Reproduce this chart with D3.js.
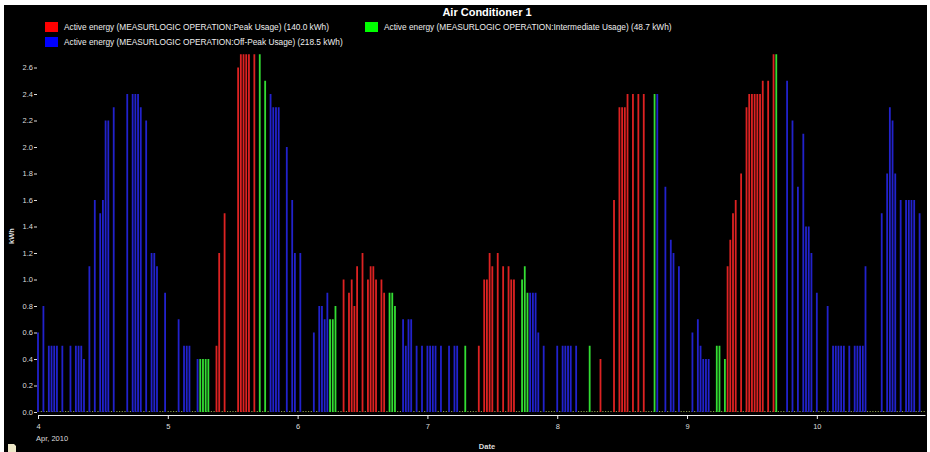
<!DOCTYPE html>
<html>
<head>
<meta charset="utf-8">
<script src="https://cdn.jsdelivr.net/npm/d3@7"></script>
<style>
  body { margin: 0; background: #fff; }
  text { font-family: "Liberation Sans", Arial, sans-serif; }
</style>
</head>
<body>
<div class="board"></div>
<script>
// half-hour slots counted from Apr 4 2010 00:00, values in kWh
var peak = [
  [66, 0.5], [67, 1.2], [69, 1.5], [74, 2.6], [75, 2.7], [76, 2.7], [77, 2.7], [78, 2.7], [80, 2.7],
  [113, 1.0], [115, 0.9], [116, 1.0], [117, 0.8], [118, 1.1], [120, 1.2], [122, 1.0], [123, 1.1],
  [124, 1.1], [125, 1.0], [127, 1.0], [128, 0.9],
  [163, 0.5], [165, 1.0], [166, 1.0], [167, 1.2], [168, 1.1], [170, 1.2], [172, 1.1], [174, 1.1],
  [175, 1.0], [176, 1.0],
  [208, 0.4], [213, 1.6], [215, 2.3], [216, 2.3], [217, 2.3], [218, 2.4], [220, 2.4], [222, 2.4], [224, 2.4],
  [255, 1.1], [256, 1.3], [257, 1.5], [258, 1.6], [260, 1.8], [262, 2.3], [263, 2.4], [264, 2.4],
  [265, 2.4], [266, 2.4], [267, 2.4], [268, 2.5], [270, 2.5], [272, 2.7]
];
var intermediate = [
  [60, 0.4], [61, 0.4], [62, 0.4], [63, 0.4], [82, 2.7], [84, 2.5],
  [108, 0.7], [109, 0.7], [110, 0.8], [130, 0.9], [131, 0.9], [132, 0.8],
  [158, 0.5], [179, 1.0], [180, 1.1], [181, 0.9],
  [204, 0.5], [228, 2.4], [251, 0.5], [252, 0.5], [254, 0.4], [273, 2.7]
];
var offPeak = [
  [0, 0.6], [2, 0.8], [4, 0.5], [5, 0.5], [6, 0.5], [7, 0.5], [9, 0.5], [12, 0.5], [14, 0.5],
  [15, 0.5], [16, 0.5], [17, 0.4], [19, 1.1], [21, 1.6], [23, 1.5], [24, 1.6], [25, 2.2], [26, 2.2],
  [28, 2.3], [33, 2.4], [35, 2.4], [36, 2.4], [37, 2.4], [38, 2.3], [40, 2.2], [42, 1.2], [43, 1.2],
  [44, 1.1], [47, 0.9], [52, 0.7], [54, 0.5], [55, 0.5], [56, 0.5], [59, 0.4],
  [86, 2.4], [87, 2.3], [88, 2.3], [89, 2.3], [92, 2.0], [94, 1.6], [95, 1.2], [97, 1.2],
  [102, 0.6], [104, 0.8], [105, 0.8], [106, 0.7], [107, 0.9],
  [135, 0.7], [136, 0.5], [137, 0.7], [138, 0.7], [140, 0.5], [142, 0.5], [144, 0.5], [145, 0.5],
  [146, 0.5], [147, 0.5], [149, 0.5], [152, 0.5], [154, 0.5], [155, 0.5],
  [182, 0.9], [183, 0.9], [184, 0.9], [185, 0.6], [187, 0.5], [192, 0.5], [194, 0.5], [195, 0.5],
  [196, 0.5], [197, 0.5], [199, 0.5],
  [229, 2.4], [232, 1.7], [234, 1.3], [235, 1.2], [237, 1.1], [242, 0.6], [244, 0.7], [245, 0.5],
  [246, 0.4], [247, 0.4], [248, 0.4],
  [277, 2.5], [279, 2.2], [281, 1.7], [283, 2.1], [284, 1.4], [285, 1.4], [286, 1.2], [288, 0.9],
  [292, 0.8], [294, 0.5], [295, 0.5], [296, 0.5], [297, 0.5], [298, 0.5], [300, 0.5], [302, 0.5],
  [303, 0.5], [304, 0.5], [305, 0.5], [306, 1.1], [312, 1.5], [314, 1.8], [315, 2.3], [316, 2.2],
  [317, 1.8], [319, 1.6], [321, 1.6], [322, 1.6], [323, 1.6], [324, 1.6], [326, 1.5]
];

var yTicks = [0, 0.2, 0.4, 0.6, 0.8, 1.0, 1.2, 1.4, 1.6, 1.8, 2.0, 2.2, 2.4, 2.6];
var dayTicks = [4, 5, 6, 7, 8, 9, 10];

var series = [
  { name: "Active energy (MEASURLOGIC OPERATION:Peak Usage) (140.0 kWh)", data: peak, fill: "#dd2222", key: "#ff0000" },
  { name: "Active energy (MEASURLOGIC OPERATION:Intermediate Usage) (48.7 kWh)", data: intermediate, fill: "#33dd33", key: "#00ff00" },
  { name: "Active energy (MEASURLOGIC OPERATION:Off-Peak Usage) (218.5 kWh)", data: offPeak, fill: "#2222cc", key: "#0000ff" }
];

var width = 930;
var height = 452;
var start = new Date(2010, 3, 4, 0, 0);
var end = new Date(2010, 3, 10, 20, 0);

var svg = d3.select(".board").append("svg")
  .attr("width", width)
  .attr("height", height);

svg.append("rect")
  .attr("x", 4).attr("y", 5)
  .attr("width", 923).attr("height", height - 5)
  .attr("fill", "#000");

var x = d3.scaleTime().domain([start, end]).range([38, 925]);
var y = d3.scaleLinear().domain([0, 2.6]).range([412, 67.5]);

var slotTime = function(i) { return d3.timeMinute.offset(start, 30 * i); };

// dotted strip along the zero line
svg.append("line")
  .attr("x1", x(start)).attr("x2", x(end))
  .attr("y1", y(0) - 0.5).attr("y2", y(0) - 0.5)
  .attr("stroke", "#8a9a4a")
  .attr("stroke-width", 1)
  .attr("stroke-dasharray", "1.2,1.5");

series.forEach(function(s) {
  svg.append("g").selectAll("rect").data(s.data).enter().append("rect")
    .attr("x", function(d) { return x(slotTime(d[0])) - 0.9; })
    .attr("y", function(d) { return y(d[1]); })
    .attr("width", 1.8)
    .attr("height", function(d) { return y(0) - y(d[1]); })
    .attr("fill", s.fill);
});

// x axis
var days = dayTicks.map(function(d) { return new Date(2010, 3, d); });
var xAxis = svg.append("g")
  .attr("transform", "translate(0,415)")
  .call(d3.axisBottom(x).tickValues(days).tickFormat(d3.timeFormat("%-d")).tickSize(4).tickSizeOuter(0));
xAxis.select(".domain").attr("stroke", "#eee");
xAxis.selectAll(".tick line").attr("stroke", "#eee");
xAxis.selectAll(".tick text").attr("fill", "#ddd").attr("font-size", 7.5).attr("dy", "0.9em");

svg.append("text")
  .attr("x", 36).attr("y", 441)
  .attr("fill", "#ddd").attr("font-size", 7.5)
  .text("Apr, 2010");

svg.append("text")
  .attr("x", 487).attr("y", 449)
  .attr("text-anchor", "middle")
  .attr("fill", "#ddd").attr("font-size", 7.5).attr("font-weight", "bold")
  .text("Date");

// y axis
var yAxis = svg.append("g")
  .attr("transform", "translate(37,0)")
  .call(d3.axisLeft(y).tickValues(yTicks).tickFormat(d3.format(".1f")).tickSize(3));
yAxis.select(".domain").remove();
yAxis.selectAll(".tick line").attr("stroke", "#ddd");
yAxis.selectAll(".tick text").attr("fill", "#ddd").attr("font-size", 7.5).attr("x", -4);

svg.append("text")
  .attr("transform", "translate(14,236) rotate(-90)")
  .attr("text-anchor", "middle")
  .attr("fill", "#ddd").attr("font-size", 7.5).attr("font-weight", "bold")
  .text("kWh");

// title
svg.append("text")
  .attr("x", 487).attr("y", 16)
  .attr("text-anchor", "middle")
  .attr("fill", "#fff").attr("font-size", 11).attr("font-weight", "bold")
  .text("Air Conditioner 1");

// legend
var legendPos = [[45, 22], [365, 22], [45, 37]];
series.forEach(function(s, i) {
  var g = svg.append("g").attr("transform", "translate(" + legendPos[i][0] + "," + legendPos[i][1] + ")");
  g.append("rect").attr("width", 13).attr("height", 10).attr("fill", s.key);
  g.append("text")
    .attr("x", 19).attr("y", 8)
    .attr("fill", "#eee").attr("font-size", 8.3)
    .text(s.name);
});

// little icon in the bottom corner
svg.append("path")
  .attr("d", "M8,444 L14,444 L16,446 L16,452 L8,452 Z")
  .attr("fill", "#eee8c8");
</script>
</body>
</html>
